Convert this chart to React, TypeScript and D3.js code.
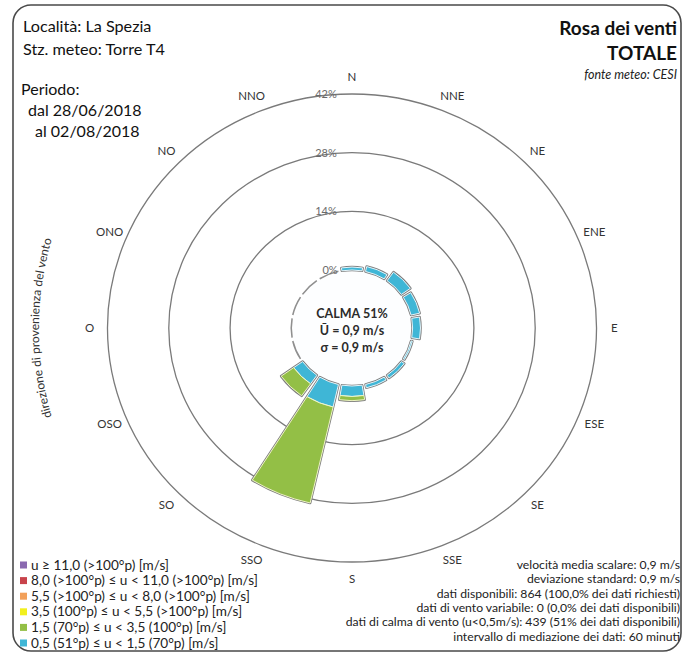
import * as d3 from "d3";
import { useEffect, useRef } from "react";

const directions = ["N", "NNE", "NE", "ENE", "E", "ESE", "SE", "SSE", "S", "SSO", "SO", "OSO", "O", "ONO", "NO", "NNO"];

// legend, dall'alto verso il basso
const classLabels = [
    "u ≥ 11,0 (>100°p) [m/s]",
    "8,0 (>100°p) ≤ u < 11,0 (>100°p) [m/s]",
    "5,5 (>100°p) ≤ u < 8,0 (>100°p) [m/s]",
    "3,5 (100°p) ≤ u < 5,5 (>100°p) [m/s]",
    "1,5 (70°p) ≤ u < 3,5 (100°p) [m/s]",
    "0,5 (51°p) ≤ u < 1,5 (70°p) [m/s]",
];
const classColors = ["#8a69b0", "#c8434b", "#f2a05a", "#f2f01e", "#93bf46", "#3fb6d6"];

// frequenze (%) per classe, dalla più lenta
const freqC1 = [0.7, 1.2, 2.5, 2.0, 1.8, 0.3, 0.8, 0.8, 2.5, 5.5, 2.5, 0, 0, 0, 0, 0];
const freqC2 = [0, 0, 0, 0, 0, 0, 0, 0, 1.0, 23.5, 3.5, 0, 0, 0, 0, 0];
const freqC3 = [0, 0, 0, 0, 0, 0, 0, 0, 0, 0, 0, 0, 0, 0, 0, 0];
const freqC4 = [0, 0, 0, 0, 0, 0, 0, 0, 0, 0, 0, 0, 0, 0, 0, 0];
const freqC5 = [0, 0, 0, 0, 0, 0, 0, 0, 0, 0, 0, 0, 0, 0, 0, 0];
const freqC6 = [0, 0, 0, 0, 0, 0, 0, 0, 0, 0, 0, 0, 0, 0, 0, 0];

const ringTicks = [0, 14, 28, 42];
const calmLines = ["CALMA 51%", "Ū = 0,9 m/s", "σ = 0,9 m/s"];

const headerLines = ["Località: La Spezia", "Stz. meteo: Torre T4"];
const periodLines = ["Periodo:", "dal 28/06/2018", "al 02/08/2018"];

const statLines = [
    "velocità media scalare: 0,9 m/s",
    "deviazione standard: 0,9 m/s",
    "dati disponibili: 864 (100,0% dei dati richiesti)",
    "dati di vento variabile: 0 (0,0% dei dati disponibili)",
    "dati di calma di vento (u<0,5m/s): 439 (51% dei dati disponibili)",
    "intervallo di mediazione dei dati: 60 minuti",
];

export default function App() {
    const svgRef = useRef<SVGSVGElement | null>(null);
    const width = 683;
    const height = 655;

    useEffect(() => {
        document.body.style.margin = "0";
        const svg = d3.select(svgRef.current);
        svg.selectAll("*").remove();

        const font = "Lato, 'Open Sans', sans-serif";
        const cx = 352;
        const cy = 328;
        const sx = 1.045;

        const r = d3.scaleLinear().domain([0, 42]).range([58, 234]);
        const step = (2 * Math.PI) / directions.length;
        const half = (9.6 * Math.PI) / 180;

        // cornice
        svg.append("rect")
            .attr("x", 13).attr("y", 5)
            .attr("width", 668).attr("height", 646)
            .attr("rx", 18)
            .attr("fill", "#fff")
            .attr("stroke", "#4a4a4a")
            .attr("stroke-width", 1.6);

        const rose = svg.append("g").attr("transform", `translate(${cx},${cy}) scale(${sx},1)`);

        // anelli
        rose.selectAll("circle.ring")
            .data(ringTicks.slice(1))
            .enter()
            .append("circle")
            .attr("class", "ring")
            .attr("r", (d) => r(d))
            .attr("fill", "none")
            .attr("stroke", "#7a7a7a")
            .attr("stroke-width", 1.3)
            .attr("vector-effect", "non-scaling-stroke");

        rose.append("circle")
            .attr("r", r(0) - 1)
            .attr("fill", "#fdfeff");

        const series = [freqC1, freqC2, freqC3, freqC4, freqC5, freqC6];
        const colors = [...classColors].reverse();

        const arc = d3.arc<any>();

        directions.forEach((_, i) => {
            const a = i * step;
            const total = d3.sum(series, (s) => s[i]);
            if (total <= 0.001) {
                rose.append("path")
                    .attr("d", arc({ innerRadius: r(0) - 0.6, outerRadius: r(0) + 0.9, startAngle: a - half, endAngle: a + half }))
                    .attr("fill", "#8f8f8f");
                return;
            }
            // contorno
            rose.append("path")
                .attr("d", arc({ innerRadius: r(0), outerRadius: r(total), startAngle: a - half, endAngle: a + half }))
                .attr("fill", "none")
                .attr("stroke", "#7e7e7e")
                .attr("stroke-width", 2.6)
                .attr("stroke-linejoin", "round")
                .attr("vector-effect", "non-scaling-stroke");
            let acc = 0;
            series.forEach((s, k) => {
                const v = s[i];
                if (v <= 0) return;
                rose.append("path")
                    .attr("d", arc({ innerRadius: r(acc), outerRadius: r(acc + v), startAngle: a - half, endAngle: a + half }))
                    .attr("fill", colors[k])
                    .attr("stroke", k === 1 ? "#eef4c4" : "#e3f4fa")
                    .attr("stroke-width", 1)
                    .attr("vector-effect", "non-scaling-stroke");
                acc += v;
            });
        });

        // etichette anelli
        svg.selectAll("text.tick")
            .data(ringTicks)
            .enter()
            .append("text")
            .attr("x", (d) => (d === 0 ? cx - 22 : cx - 26))
            .attr("y", (d) => cy - r(d) + 4)
            .attr("text-anchor", "middle")
            .attr("font-family", font)
            .attr("font-size", 11)
            .attr("fill", "#6a6a6a")
            .text((d) => `${d}%`);

        // direzioni
        const labelR = 251;
        svg.selectAll("text.dir")
            .data(directions)
            .enter()
            .append("text")
            .attr("x", (_, i) => cx + labelR * Math.sin(i * step) * sx)
            .attr("y", (_, i) => cy - labelR * Math.cos(i * step) + 4)
            .attr("text-anchor", "middle")
            .attr("font-family", font)
            .attr("font-size", 11.5)
            .attr("fill", "#333")
            .text((d) => d);

        // calma
        svg.selectAll("text.calm")
            .data(calmLines)
            .enter()
            .append("text")
            .attr("x", cx)
            .attr("y", (_, i) => cy - 10 + i * 17)
            .attr("text-anchor", "middle")
            .attr("font-family", font)
            .attr("font-weight", "bold")
            .attr("font-size", 12.5)
            .attr("fill", "#2b2b2b")
            .text((d) => d);

        // etichetta curva
        const lr = 313;
        const a0 = (203 * Math.PI) / 180;
        const a1 = (337 * Math.PI) / 180;
        const p0 = [cx + lr * Math.sin(a0), cy - lr * Math.cos(a0)];
        const p1 = [cx + lr * Math.sin(a1), cy - lr * Math.cos(a1)];
        svg.append("path")
            .attr("id", "ylabPath")
            .attr("d", `M${p0[0]},${p0[1]} A${lr},${lr} 0 0 1 ${p1[0]},${p1[1]}`)
            .attr("fill", "none");
        svg.append("text")
            .attr("font-family", font)
            .attr("font-size", 12)
            .attr("fill", "#333")
            .append("textPath")
            .attr("href", "#ylabPath")
            .attr("startOffset", "50%")
            .attr("text-anchor", "middle")
            .text("direzione di provenienza del vento");

        // intestazione
        svg.selectAll("text.head")
            .data(headerLines)
            .enter()
            .append("text")
            .attr("x", 23)
            .attr("y", (_, i) => 32 + i * 23)
            .attr("font-family", font)
            .attr("font-size", 16.2)
            .attr("fill", "#111")
            .text((d) => d);

        const periodX = [21, 28, 35];
        svg.selectAll("text.period")
            .data(periodLines)
            .enter()
            .append("text")
            .attr("x", (_, i) => periodX[i])
            .attr("y", (_, i) => 95 + i * 21)
            .attr("font-family", font)
            .attr("font-size", 16)
            .attr("fill", "#111")
            .text((d) => d);

        const title = svg.append("g").attr("font-family", font).attr("text-anchor", "end");
        title.append("text").attr("x", 677).attr("y", 35).attr("font-size", 19).attr("font-weight", "bold").attr("fill", "#111").text("Rosa dei venti");
        title.append("text").attr("x", 677).attr("y", 60).attr("font-size", 19).attr("font-weight", "bold").attr("fill", "#111").text("TOTALE");
        title.append("text").attr("x", 677).attr("y", 79).attr("font-size", 12.5).attr("font-style", "italic").attr("fill", "#222").text("fonte meteo: CESI");

        // legenda
        const leg = svg.append("g").attr("font-family", font).attr("font-size", 13.6);
        classLabels.forEach((lab, i) => {
            const y = 565 + i * 15.6;
            leg.append("rect").attr("x", 20).attr("y", y - 3.5).attr("width", 7).attr("height", 7).attr("fill", classColors[i]);
            leg.append("text").attr("x", 31).attr("y", y + 4.5).attr("fill", "#222").text(lab);
        });

        // statistiche
        svg.selectAll("text.stat")
            .data(statLines)
            .enter()
            .append("text")
            .attr("x", 680)
            .attr("y", (_, i) => 569 + i * 14.3)
            .attr("text-anchor", "end")
            .attr("font-family", font)
            .attr("font-size", 12.2)
            .attr("fill", "#222")
            .text((d) => d);
    }, []);

    return <svg ref={svgRef} width={width} height={height} style={{ display: "block" }}></svg>;
}
